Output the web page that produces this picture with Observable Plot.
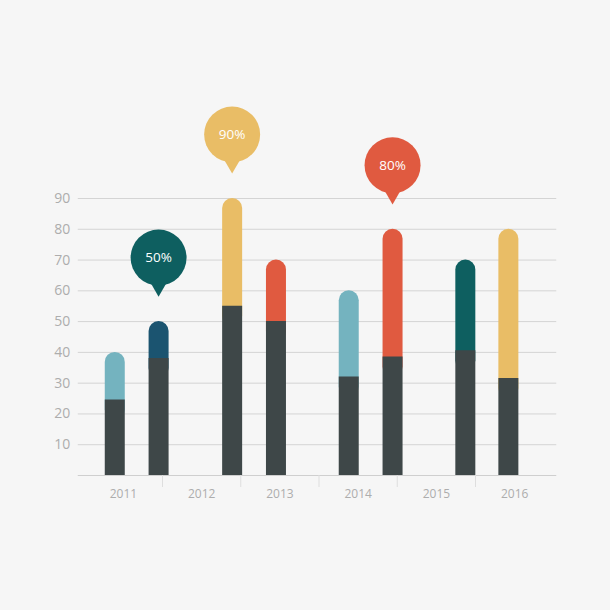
<!DOCTYPE html>
<html><head><meta charset="utf-8">
<script src="https://cdn.jsdelivr.net/npm/d3@7"></script>
<script src="https://cdn.jsdelivr.net/npm/@observablehq/plot@0.6"></script>
<style>
html,body{margin:0;padding:0;background:#f6f6f6;}
#chart svg{display:block;}
</style>
</head><body><div id="chart"></div>
<script>
// Data
const years = [2011, 2012, 2013, 2014, 2015, 2016];
const yTicks = [10, 20, 30, 40, 50, 60, 70, 80, 90];
const barTime = [2011.39, 2011.95, 2012.89, 2013.45, 2014.38, 2014.94, 2015.87, 2016.42];
const totals = [40, 50, 90, 70, 60, 80, 70, 80];
const bases = [24.5, 38, 55, 50, 32, 38.5, 40.5, 31.5];
const topColors = ["#74b3bf", "#1b5470", "#e9bd66", "#e05a40", "#74b3bf", "#e05a40", "#0e5f60", "#e9bd66"];
const calloutBar = [1, 2, 5];
const calloutText = ["50%", "90%", "80%"];
const calloutColor = ["#0e5f60", "#e9bd66", "#e05a40"];

const bars = barTime.map((t, i) => ({t, total: totals[i], base: bases[i], color: topColors[i]}));
const callouts = calloutBar.map((b, i) => ({t: barTime[b], total: totals[b], text: calloutText[i], color: calloutColor[i]}));
const boundaries = years.slice(1);

const dark = "#3e4748";
const font = "'Open Sans', 'Noto Sans', sans-serif";

const chart = Plot.plot({
  width: 610,
  height: 610,
  marginLeft: 83.75,
  marginRight: 56.75,
  marginTop: 198,
  marginBottom: 135,
  style: {background: "#f6f6f6", fontFamily: font},
  x: {domain: [2011, 2017], label: null},
  y: {domain: [0, 90], label: null},
  marks: [
    Plot.ruleY(yTicks, {stroke: "#d4d4d4", strokeWidth: 1, insetLeft: -6, insetRight: -3}),
    Plot.ruleY([0], {stroke: "#cfcfcf", strokeWidth: 1, insetLeft: -6, insetRight: -3}),
    Plot.axisX({ticks: boundaries, tickSize: 12, tickFormat: () => "", stroke: "#dedede", strokeWidth: 1, label: null}),
    Plot.axisX({ticks: years.map(y => y + 0.5), tickSize: 0, tickPadding: 14, tickFormat: d => String(Math.floor(d)), fill: "#adadad", fontSize: 12, label: null}),
    Plot.axisY({ticks: yTicks, tickSize: 0, tickPadding: 14, fill: "#adadad", fontSize: 14, label: null}),
    // colored upper segment with rounded top (shifted down by the cap radius)
    Plot.ruleX(bars, {x: "t", y1: "base", y2: "total", dy: 10, stroke: "color", strokeWidth: 20, strokeLinecap: "round"}),
    // dark lower segment
    Plot.ruleX(bars, {x: "t", y1: 0, y2: "base", stroke: dark, strokeWidth: 20}),
    // callout pins
    Plot.dot(callouts, {x: "t", y: "total", dy: -35, symbol: "triangle", rotate: 180, r: 6.5, fill: "color", stroke: null}),
    Plot.dot(callouts, {x: "t", y: "total", dy: -64, r: 28, fill: "color", stroke: null}),
    Plot.text(callouts, {x: "t", y: "total", dy: -64, text: "text", fill: "white", fontSize: 13.5})
  ]
});
document.getElementById("chart").append(chart);
</script>
</body></html>
